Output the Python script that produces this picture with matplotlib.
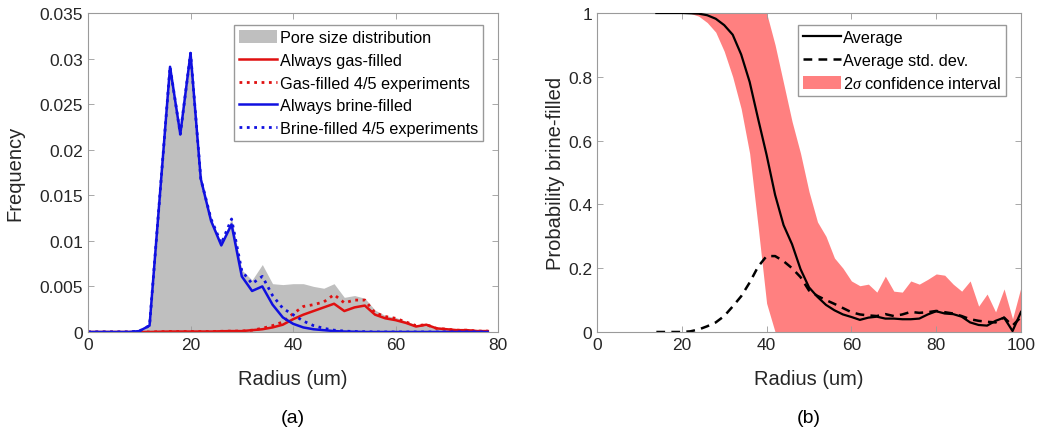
import matplotlib
matplotlib.use('Agg')
import matplotlib.pyplot as plt
import numpy as np

plt.rcParams['font.family'] = ['Liberation Sans', 'DejaVu Sans']
plt.rcParams['mathtext.fontset'] = 'custom'
plt.rcParams['mathtext.it'] = 'Liberation Serif:italic'

# ---- panel (a): pore size distribution ----
radius_a = [0, 2, 4, 6, 8, 10, 12, 14, 16, 18, 20, 22, 24, 26, 28, 30, 32, 34, 36, 38,
            40, 42, 44, 46, 48, 50, 52, 54, 56, 58, 60, 62, 64, 66, 68, 70, 72, 74, 76, 78]
pore = [0, 0, 0, 0, 0, 0, 0.0007, 0.0150, 0.0291, 0.0217, 0.0306, 0.0168, 0.0124, 0.0096,
        0.0125, 0.0068, 0.0057, 0.0074, 0.0053, 0.0052, 0.0053, 0.0053, 0.0050, 0.0048,
        0.0053, 0.0038, 0.0040, 0.0037, 0.0024, 0.0018, 0.0016, 0.0012, 0.0008, 0.0009,
        0.0005, 0.0003, 0.0002, 0.0002, 0.0001, 0.0001]
gas_always = [0, 0, 0, 0, 0, 0, 0, 0.00003, 0.00005, 0.00005, 0.00005, 0.00005, 0.00005,
              0.00008, 0.0001, 0.0001, 0.0002, 0.0003, 0.0005, 0.0008, 0.0014, 0.0019,
              0.0023, 0.0027, 0.0031, 0.0023, 0.0027, 0.0029, 0.0019, 0.0015, 0.0013,
              0.0010, 0.0006, 0.0008, 0.0004, 0.0003, 0.0002, 0.0002, 0.0001, 0.0001]
gas_45 = [0, 0, 0, 0, 0, 0, 0, 0.00003, 0.00005, 0.00005, 0.00005, 0.00005, 0.00005,
          0.00008, 0.0001, 0.0001, 0.0002, 0.0004, 0.0007, 0.0011, 0.0020, 0.0028,
          0.0030, 0.0033, 0.0041, 0.0032, 0.0035, 0.0035, 0.0021, 0.0017, 0.0015,
          0.0011, 0.0007, 0.0008, 0.0004, 0.0003, 0.0002, 0.0002, 0.0001, 0.0001]
brine_always = [0, 0, 0, 0, 0, 0.0001, 0.0007, 0.0149, 0.0291, 0.0217, 0.0306, 0.0168,
                0.0122, 0.0095, 0.0118, 0.0061, 0.0045, 0.0050, 0.0030, 0.0016, 0.0009,
                0.0005, 0.0003, 0.0002, 0.0001, 0.00005, 0.00003, 0, 0, 0, 0, 0, 0, 0,
                0, 0, 0, 0, 0, 0]
brine_45 = [0, 0, 0, 0, 0, 0.0001, 0.0007, 0.0149, 0.0291, 0.0217, 0.0306, 0.0168,
            0.0124, 0.0097, 0.0124, 0.0067, 0.0053, 0.0061, 0.0040, 0.0026, 0.0019,
            0.0012, 0.0007, 0.0004, 0.0002, 0.0001, 0.00005, 0.00003, 0, 0, 0, 0, 0,
            0, 0, 0, 0, 0, 0, 0]
yticks_a = [0, 0.005, 0.01, 0.015, 0.02, 0.025, 0.03, 0.035]
yticklabels_a = ['0', '0.005', '0.01', '0.015', '0.02', '0.025', '0.03', '0.035']

# ---- panel (b): probability brine-filled ----
radius_b = list(range(14, 101, 2))
average = [1.0, 1.0, 1.0, 1.0, 0.999, 0.998, 0.993, 0.982, 0.962, 0.932, 0.870, 0.784,
           0.668, 0.555, 0.430, 0.335, 0.275, 0.197, 0.140, 0.110, 0.085, 0.068, 0.055,
           0.047, 0.038, 0.045, 0.048, 0.042, 0.042, 0.040, 0.040, 0.042, 0.055, 0.065,
           0.058, 0.056, 0.048, 0.030, 0.022, 0.020, 0.035, 0.045, 0.003, 0.063]
std_avg = [0, 0, 0, 0, 0.002, 0.008, 0.018, 0.030, 0.050, 0.080, 0.112, 0.155, 0.205,
           0.238, 0.238, 0.222, 0.200, 0.172, 0.130, 0.113, 0.100, 0.088, 0.075, 0.062,
           0.055, 0.052, 0.050, 0.056, 0.050, 0.055, 0.063, 0.060, 0.062, 0.066, 0.062,
           0.058, 0.050, 0.040, 0.035, 0.032, 0.030, 0.045, 0.020, 0.047]
ci_upper = [1.0, 1.0, 1.0, 1.0, 1.0, 1.0, 1.0, 1.0, 1.0, 1.0, 1.0, 1.0, 1.0, 1.0, 0.90,
            0.78, 0.66, 0.56, 0.44, 0.345, 0.30, 0.232, 0.20, 0.16, 0.145, 0.15, 0.125,
            0.175, 0.128, 0.125, 0.16, 0.15, 0.165, 0.182, 0.178, 0.15, 0.128, 0.16,
            0.081, 0.119, 0.063, 0.135, 0.041, 0.141]
ci_lower = [1.0, 1.0, 1.0, 1.0, 0.999, 0.99, 0.97, 0.94, 0.88, 0.80, 0.70, 0.56, 0.33,
            0.09, 0, 0, 0, 0, 0, 0, 0, 0, 0, 0, 0, 0, 0, 0, 0, 0, 0, 0, 0, 0, 0, 0, 0, 0,
            0, 0, 0, 0, 0, 0]

fig = plt.figure(figsize=(10.37, 4.35), dpi=100)
ax1 = fig.add_axes([0.0849, 0.2345, 0.3954, 0.7333])
ax2 = fig.add_axes([0.5757, 0.2345, 0.4089, 0.7333])

leg_kw = dict(fontsize=11.7, frameon=True, fancybox=False, edgecolor='#999999',
              borderpad=0.3, labelspacing=0.45, handlelength=2.35, handleheight=0.9,
              handletextpad=0.15, borderaxespad=0, framealpha=1)

ax1.fill_between(radius_a, pore, color='#bfbfbf', lw=0, label='Pore size distribution')
ax1.plot(radius_a, gas_always, color='#e01010', lw=1.8, label='Always gas-filled')
ax1.plot(radius_a, gas_45, color='#e01010', lw=2, ls=':', label='Gas-filled 4/5 experiments')
ax1.plot(radius_a, brine_always, color='#1010e0', lw=1.8, label='Always brine-filled')
ax1.plot(radius_a, brine_45, color='#1010e0', lw=2, ls=':', label='Brine-filled 4/5 experiments')
ax1.set_xlim(0, 80)
ax1.set_ylim(0, 0.035)
ax1.set_xticks([0, 20, 40, 60, 80])
ax1.set_yticks(yticks_a)
ax1.set_yticklabels(yticklabels_a)
ax1.set_xlabel('Radius (um)', fontsize=14.5)
ax1.set_ylabel('Frequency', fontsize=14.5)
ax1.yaxis.set_label_coords(-0.155, 0.5)
ax1.xaxis.set_label_coords(0.5, -0.115)
ax1.legend(loc='upper right', bbox_to_anchor=(0.963, 0.962), **leg_kw)
ax1.text(0.5, -0.24, '(a)', transform=ax1.transAxes, ha='center', va='top', fontsize=14)

ax2.fill_between(radius_b, ci_lower, ci_upper, color='#ff8080', lw=0, zorder=1)
ax2.plot(radius_b, average, color='k', lw=1.6, label='Average', zorder=3)
ax2.plot(radius_b, std_avg, color='k', lw=1.8, ls=(0, (3.5, 2.5)), label='Average std. dev.', zorder=2)
ax2.fill_between([], [], [], color='#ff8080', lw=0, label='2$\\sigma$ confidence interval')
ax2.set_xlim(0, 100)
ax2.set_ylim(0, 1)
ax2.set_xticks([0, 20, 40, 60, 80, 100])
ax2.set_yticks([0, 0.2, 0.4, 0.6, 0.8, 1])
ax2.set_yticklabels(['0', '0.2', '0.4', '0.6', '0.8', '1'])
ax2.set_xlabel('Radius (um)', fontsize=14.5)
ax2.set_ylabel('Probability brine-filled', fontsize=14.5)
ax2.yaxis.set_label_coords(-0.075, 0.5)
ax2.xaxis.set_label_coords(0.5, -0.115)
ax2.legend(loc='upper right', bbox_to_anchor=(0.965, 0.962), **leg_kw)
ax2.text(0.5, -0.24, '(b)', transform=ax2.transAxes, ha='center', va='top', fontsize=14)

for ax in (ax1, ax2):
    for s in ax.spines.values():
        s.set_color('#9a9a9a')
        s.set_linewidth(0.8)
    ax.tick_params(direction='in', top=True, right=True, length=4, width=0.6,
                   color='#9a9a9a', labelsize=12.5, labelcolor='#262626')
    ax.xaxis.label.set_color('#262626')
    ax.yaxis.label.set_color('#262626')

fig.savefig('out.png', dpi=100)
